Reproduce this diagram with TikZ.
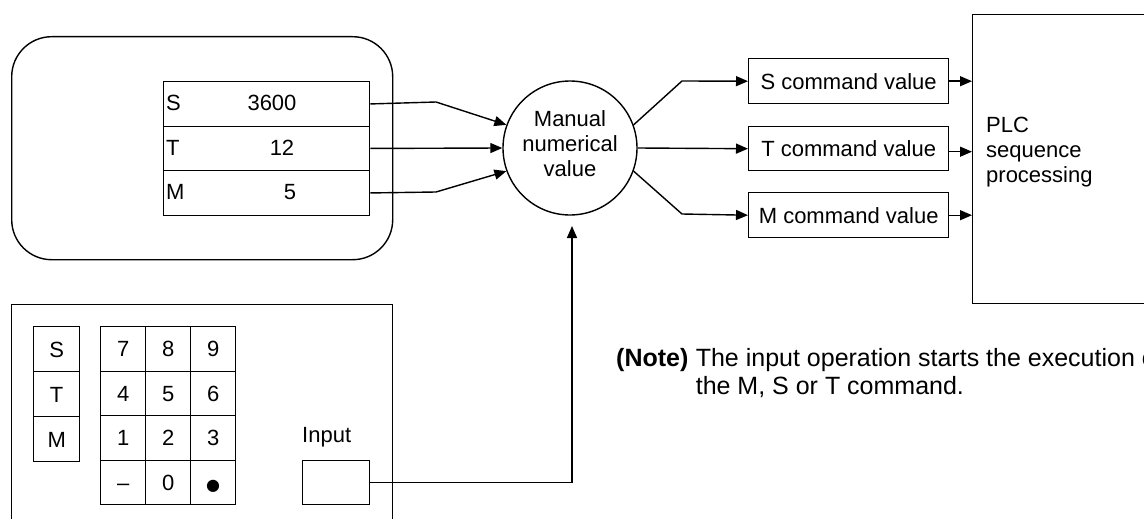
\documentclass[tikz,border=0pt]{standalone}
\usepackage{fontspec}
\setmainfont{Liberation Sans}
\newfontfamily\symfont{DejaVu Sans}
\usetikzlibrary{arrows.meta,calc}
\begin{document}
\begin{tikzpicture}[x=1pt,y=-1pt,
  every node/.style={font=\fontsize{22}{25}\selectfont},
  box/.style={draw,line width=1.4pt,inner sep=0pt,anchor=north west},
  key/.style={box,text height=16pt,text depth=0pt},
  txt/.style={inner sep=0pt},
  arr/.style={line width=1.4pt,-{Triangle[length=12pt,width=10pt]}},
]
\useasboundingbox (0,0) rectangle (1144,519);

% upper display panel
\node[box,rounded corners=40pt,minimum width=381pt,minimum height=223pt] (panel) at (11,36) {};
\node[box,minimum width=206pt,minimum height=44.5pt] (rS) at (163,81) {};
\node[box,minimum width=206pt,minimum height=44.5pt] (rT) at (163,125.5) {};
\node[box,minimum width=206pt,minimum height=44.5pt] (rM) at (163,170) {};
\node[txt,anchor=west] (lS) at (166,103) {S};
\node[txt,anchor=west] (lT) at (166,148) {T};
\node[txt,anchor=west] (lM) at (166,192) {M};
\node[txt] (vS) at (272,103) {3600};
\node[txt] (vT) at (282,148) {12};
\node[txt] (vM) at (290,192) {5};

% circle
\node[draw,circle,line width=1.4pt,minimum size=134pt,inner sep=0pt] (circ) at (570,148) {};
\node[txt,align=center] (circT) at (570,144) {Manual\\numerical\\value};

\coordinate (eS) at (436,102);
\coordinate (eM) at (436,192);
\draw[arr] (rS.east) -- (eS) -- (circ.160);
\draw[arr] (rT.east) -- (circ.west);
\draw[arr] (rM.east) -- (eM) -- (circ.200);

% command boxes
\node[box,minimum width=200pt,minimum height=45pt] (sBox) at (748,58) {S command value};
\node[box,minimum width=200pt,minimum height=44pt] (tBox) at (748,126) {T command value};
\node[box,minimum width=200pt,minimum height=45pt] (mBox) at (748,192) {M command value};

\coordinate (oS) at (682,81);
\coordinate (oM) at (682,214);
\draw[arr] (circ.20) -- (oS) -- (sBox.west);
\draw[arr] (circ.east) -- (tBox.west);
\draw[arr] (circ.-20) -- (oM) -- (mBox.west);

% PLC
\node[box,minimum width=200pt,minimum height=289pt] (plc) at (972,14) {};
\node[txt,anchor=west,align=left] (plcT) at (986,152) {PLC\\sequence\\processing};
\draw[arr] (sBox.east) -- (sBox.east -| plc.west);
\draw[arr] (tBox.east) ++(0,3) -- ($(tBox.east -| plc.west)+(0,3)$);
\draw[arr] (mBox.east) -- (mBox.east -| plc.west);

% keypad panel
\node[box,minimum width=381pt,minimum height=260pt] (pad) at (11,304) {};
\foreach \t [count=\i] in {S,T,M}
  \node[key,minimum width=46pt,minimum height=45pt] (k\t) at (33,{326+45*(\i-1)}) {\t};
\foreach \a/\b/\c [count=\r] in {7/8/9,4/5/6,1/2/3,{–}/0/{{\symfont\fontsize{16}{16}\selectfont ●}}}{
  \node[key,minimum width=45pt,minimum height=44.5pt] (n\r a) at (100,{326+44.5*(\r-1)}) {\a};
  \node[key,minimum width=45pt,minimum height=44.5pt] (n\r b) at (145,{326+44.5*(\r-1)}) {\b};
  \node[key,minimum width=45pt,minimum height=44.5pt] (n\r c) at (190,{326+44.5*(\r-1)}) {\c};
}
\node[txt,anchor=west] (inL) at (302,437) {Input};
\node[box,minimum width=67pt,minimum height=44pt] (inBox) at (302,460) {};
\coordinate (inTip) at (572,226);
\draw[arr] (inBox.east) -| (inTip);

% note
\begin{scope}[every node/.style={font=\fontsize{25}{28}\selectfont}]
\node[txt,anchor=base west] (noteL) at (616,366) {\textbf{(Note)}};
\node[txt,anchor=base west] (note1) at ($(noteL.base east)+(7,0)$) {The input operation starts the execution of};
\node[txt,anchor=base west] (note2) at ($(note1.base west)+(0,28)$) {the M, S or T command.};
\end{scope}
\end{tikzpicture}
\end{document}
